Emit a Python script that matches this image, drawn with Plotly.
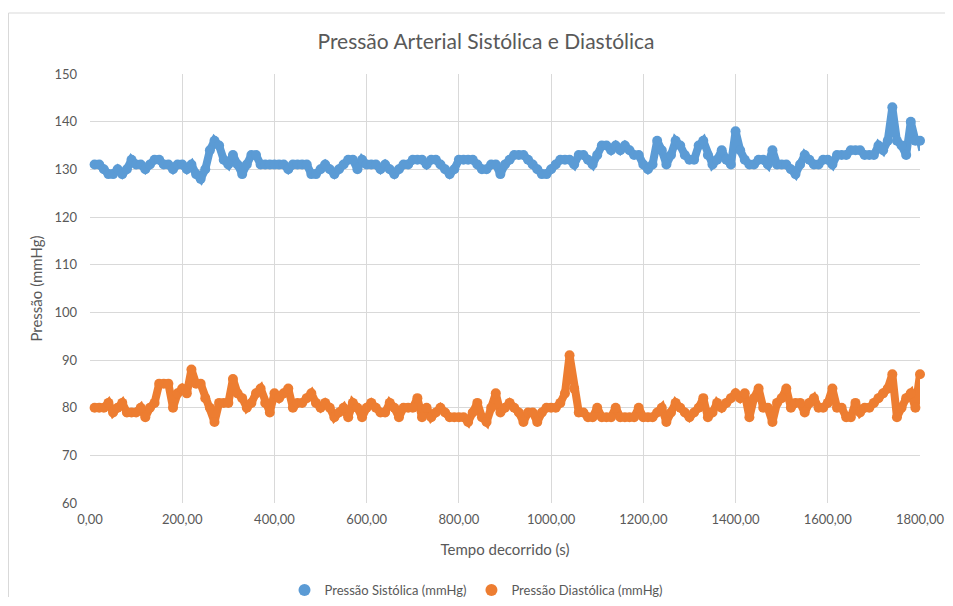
import plotly.graph_objects as go

tempo = [10, 20, 30, 40, 50, 60, 70, 80, 90, 100,
         110, 120, 130, 140, 150, 160, 170, 180, 190, 200,
         210, 220, 230, 240, 250, 260, 270, 280, 290, 300,
         310, 320, 330, 340, 350, 360, 370, 380, 390, 400,
         410, 420, 430, 440, 450, 460, 470, 480, 490, 500,
         510, 520, 530, 540, 550, 560, 570, 580, 590, 600,
         610, 620, 630, 640, 650, 660, 670, 680, 690, 700,
         710, 720, 730, 740, 750, 760, 770, 780, 790, 800,
         810, 820, 830, 840, 850, 860, 870, 880, 890, 900,
         910, 920, 930, 940, 950, 960, 970, 980, 990, 1000,
         1010, 1020, 1030, 1040, 1050, 1060, 1070, 1080, 1090, 1100,
         1110, 1120, 1130, 1140, 1150, 1160, 1170, 1180, 1190, 1200,
         1210, 1220, 1230, 1240, 1250, 1260, 1270, 1280, 1290, 1300,
         1310, 1320, 1330, 1340, 1350, 1360, 1370, 1380, 1390, 1400,
         1410, 1420, 1430, 1440, 1450, 1460, 1470, 1480, 1490, 1500,
         1510, 1520, 1530, 1540, 1550, 1560, 1570, 1580, 1590, 1600,
         1610, 1620, 1630, 1640, 1650, 1660, 1670, 1680, 1690, 1700,
         1710, 1720, 1730, 1740, 1750, 1760, 1770, 1780, 1790, 1800,
         1805]

sistolica = [131, 131, 130, 129, 129, 130, 129, 130, 132, 131,
             131, 130, 131, 132, 132, 131, 131, 130, 131, 131,
             130, 131, 129, 128, 130, 134, 136, 135, 132, 131,
             133, 131, 129, 131, 133, 133, 131, 131, 131, 131,
             131, 131, 130, 131, 131, 131, 131, 129, 129, 130,
             131, 130, 129, 130, 131, 132, 132, 130, 132, 131,
             131, 131, 130, 131, 130, 129, 130, 131, 131, 132,
             132, 132, 131, 132, 132, 131, 130, 129, 130, 132,
             132, 132, 132, 131, 130, 130, 131, 131, 129, 131,
             132, 133, 133, 133, 132, 131, 130, 129, 129, 130,
             131, 132, 132, 132, 131, 133, 133, 132, 131, 133,
             135, 135, 134, 135, 134, 135, 134, 133, 133, 131,
             130, 131, 136, 134, 131, 133, 136, 135, 133, 132,
             132, 135, 136, 133, 131, 132, 134, 132, 131, 138,
             134, 132, 131, 131, 132, 132, 131, 134, 131, 131,
             131, 130, 129, 131, 133, 132, 131, 131, 132, 132,
             131, 133, 133, 133, 134, 134, 134, 133, 133, 133,
             135, 134, 136, 143, 136, 135, 133, 140, 136, 136,
             134]

diastolica = [80, 80, 80, 81, 79, 80, 81, 79, 79, 79,
              80, 78, 80, 81, 85, 85, 85, 80, 83, 84,
              83, 88, 85, 85, 82, 80, 77, 81, 81, 81,
              86, 83, 82, 80, 81, 83, 84, 81, 79, 83,
              82, 83, 84, 80, 81, 81, 82, 83, 81, 80,
              81, 80, 78, 79, 80, 78, 81, 80, 78, 80,
              81, 80, 79, 79, 81, 80, 78, 80, 80, 80,
              82, 78, 80, 78, 79, 80, 79, 78, 78, 78,
              78, 77, 79, 81, 78, 77, 80, 83, 79, 80,
              81, 80, 79, 77, 79, 79, 77, 79, 80, 80,
              80, 81, 83, 91, 84, 79, 79, 78, 78, 80,
              78, 78, 78, 80, 78, 78, 78, 78, 80, 78,
              78, 78, 79, 80, 77, 79, 81, 80, 79, 78,
              79, 80, 82, 78, 79, 81, 80, 81, 82, 83,
              82, 83, 78, 82, 84, 80, 80, 77, 81, 82,
              84, 80, 81, 81, 79, 81, 82, 80, 80, 81,
              84, 80, 80, 78, 78, 81, 79, 80, 80, 81,
              82, 83, 84, 87, 78, 80, 82, 83, 80, 87,
              82]

nome_sis = "Pressão Sistólica (mmHg)"
nome_dia = "Pressão Diastólica (mmHg)"
azul = "#5B9BD5"
laranja = "#ED7D31"
x_ticks = [0, 200, 400, 600, 800, 1000, 1200, 1400, 1600, 1800]
y_ticks = [60, 70, 80, 90, 100, 110, 120, 130, 140, 150]

fig = go.Figure()
for y, cor in [(sistolica, azul), (diastolica, laranja)]:
    fig.add_trace(go.Scatter(x=tempo, y=y, mode="lines+markers",
                             line=dict(color=cor, width=8),
                             marker=dict(color=cor, size=10),
                             showlegend=False, cliponaxis=False, hoverinfo="skip"))
for cor, nome in [(azul, nome_sis), (laranja, nome_dia)]:
    fig.add_trace(go.Scatter(x=[None], y=[None], mode="markers",
                             marker=dict(color=cor, size=8), name=nome))

# page is offset by the 8px body margin; figure coordinates = page - 8
W, H = 944, 589
L, R, T, B = 82, W - 912, 66, H - 495
pw, ph = W - L - R, H - T - B

font = "Lato, 'Open Sans', sans-serif"
grid = "#d9d9d9"
fig.update_layout(
    width=W, height=H,
    margin=dict(l=L, r=R, t=T, b=B, autoexpand=False),
    paper_bgcolor="white", plot_bgcolor="white",
    separators=",.",
    font=dict(family=font, color="#595959", size=13),
    title=dict(text="Pressão Arterial Sistólica e Diastólica", x=(486 - 8) / W, xanchor="center",
               y=1 - 34 / H, yanchor="middle", font=dict(size=21, color="#595959")),
    xaxis=dict(range=[0, 1800], tickvals=x_ticks, tickformat=".2f", showgrid=True,
               gridcolor=grid, gridwidth=1, zeroline=False, showline=False,
               title=dict(text="Tempo decorrido (s)", font=dict(size=15), standoff=18),
               tickfont=dict(size=13), ticklabelstandoff=7),
    yaxis=dict(range=[60, 150], tickvals=y_ticks, showgrid=True, gridcolor=grid,
               gridwidth=1, zeroline=False, showline=False,
               title=dict(text="Pressão (mmHg)", font=dict(size=15), standoff=8),
               tickfont=dict(size=13), ticklabelstandoff=12),
    legend=dict(orientation="h", x=(476.5 - 8 - L) / pw, xanchor="center",
                y=(ph - (590 - 8 - T)) / ph, yanchor="middle",
                font=dict(size=13), itemsizing="constant", tracegroupgap=0),
    shapes=[
        dict(type="line", xref="paper", yref="paper",
             x0=(0.5 - L) / pw, x1=(W + 20 - L) / pw,
             y0=(ph - (13 - 8 - T)) / ph, y1=(ph - (13 - 8 - T)) / ph,
             line=dict(color="#d9d9d9", width=1), layer="below"),
        dict(type="line", xref="paper", yref="paper",
             x0=(0.5 - L) / pw, x1=(0.5 - L) / pw,
             y0=(ph - (13 - 8 - T)) / ph, y1=(ph - (H + 20 - T)) / ph,
             line=dict(color="#d9d9d9", width=1), layer="below"),
    ],
)
fig.write_html("out.html")
